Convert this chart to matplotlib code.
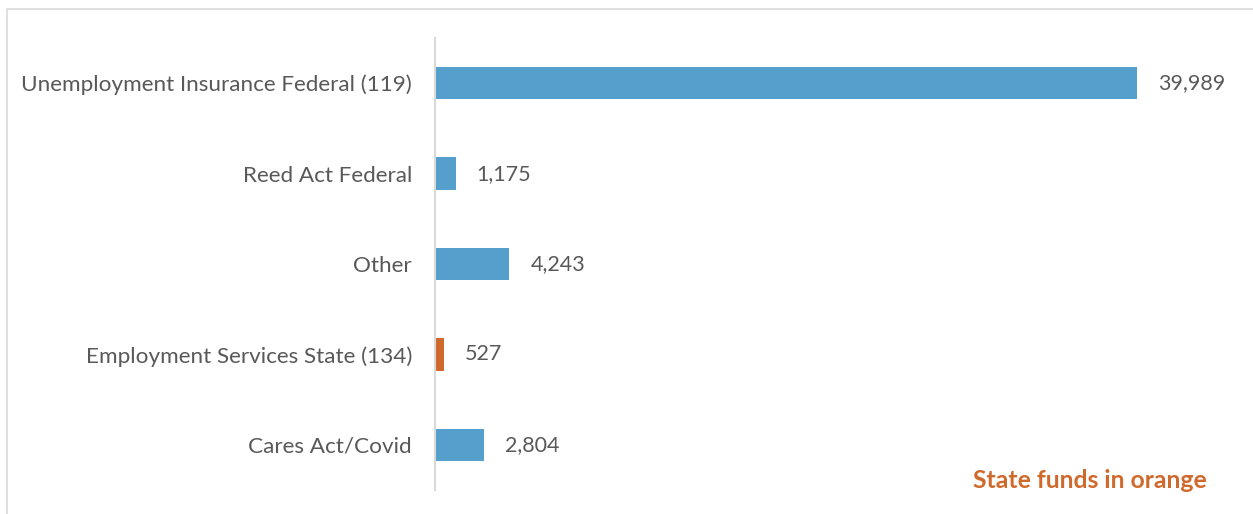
import matplotlib.pyplot as plt
from matplotlib.lines import Line2D

categories = ["Unemployment Insurance Federal (119)", "Reed Act Federal", "Other",
              "Employment Services State (134)", "Cares Act/Covid"]
amounts = [39989, 1175, 4243, 527, 2804]
is_state = [False, False, False, True, False]

blue = "#549FCC"
orange = "#D0692C"
grey_text = "#595959"

plt.rcParams["font.family"] = ["Lato", "DejaVu Sans"]

W, H = 1253, 514
fig = plt.figure(figsize=(W / 100, H / 100), dpi=100)

# axes box in pixels: left edge is the category axis
left, right, top, bottom = 435, 1225, 38, 490
ax = fig.add_axes([left / W, 1 - bottom / H, (right - left) / W, (bottom - top) / H])

ypos = list(range(len(categories)))
colors = [orange if s else blue for s in is_state]
bars = ax.barh(ypos, amounts, height=0.36, color=colors)
ax.set_ylim(len(categories) - 0.5, -0.5)
ax.set_xlim(0, 45000)

for b, v in zip(bars, amounts):
    ax.annotate(f"{v:,}", (b.get_width(), b.get_y() + b.get_height() / 2),
                xytext=(15, 0), textcoords="offset points",
                ha="left", va="center", fontsize=15.5, color=grey_text)

ax.set_yticks(ypos)
ax.set_yticklabels(categories, fontsize=16.2, color=grey_text)
ax.tick_params(axis="y", length=0, pad=16.5)
ax.set_xticks([])
for s in ["top", "right", "bottom"]:
    ax.spines[s].set_visible(False)
ax.spines["left"].set_color("#D9D9D9")
ax.spines["left"].set_linewidth(1.5)

fig.text(1207 / W, 1 - 481 / H, "State funds in orange", ha="right", va="center",
         fontsize=17.8, fontweight="bold", color=orange)

# chart frame (top and left edges)
fig.add_artist(Line2D([7 / W, 7 / W, 1], [0, 1 - 9 / H, 1 - 9 / H],
                      color="#D9D9D9", lw=1.2, transform=fig.transFigure))

fig.savefig("out.png", dpi=100)
